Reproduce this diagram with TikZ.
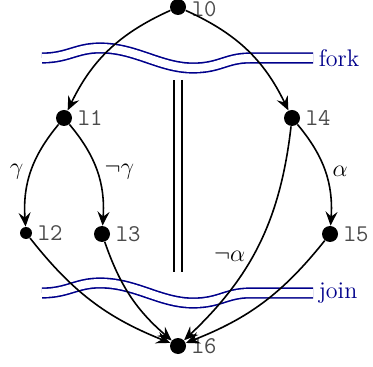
\documentclass[tikz,border=0pt]{standalone}
\usepackage{amsmath,amssymb}
\usepackage{tikz}
\usepackage{xcolor}
\usetikzlibrary{arrows.meta}

\begin{document}
\begin{tikzpicture}[x=0.5pt,y=-0.5pt]
    \definecolor{wavec}{RGB}{0,0,139}
    \definecolor{labc}{RGB}{75,75,75}
    \tikzset{
      dot/.style={circle, fill=black, inner sep=0pt, minimum size=8pt},
      smalldot/.style={circle, fill=black, inner sep=0pt, minimum size=6pt},
      lab/.style={text=labc, font=\ttfamily\large, inner sep=2.5pt},
      elab/.style={font=\large},
      flow/.style={line width=0.8pt, -{Stealth[length=7pt,width=6pt,inset=2.5pt]}},
      wave/.style={draw=wavec, line width=0.8pt, double=white, double distance=4pt}
    }
    \useasboundingbox (0,0) rectangle (373,367);

    % fork and join barriers
    \foreach \yy/\txt in {0/fork,235/join}{
      \draw[wave, shift={(0,\yy)}]
        (42,58) .. controls (68,58) and (76,48) .. (100,48)
        .. controls (136,48) and (160,68) .. (193,68)
        .. controls (220,68) and (226,58) .. (250,58) -- (313,58)
        node[right, text=wavec, font=\large, inner sep=2.5pt] (\txt) {\txt};
    }

    % parallel bar
    \coordinate (bartop) at (178,80);
    \coordinate (barbot) at (178,272);
    \draw[line width=1pt, double=white, double distance=2.6pt] (bartop) -- (barbot);

    \node[dot, label={[lab, yshift=-1pt]right:l0}] (l0) at (178,7) {};
    \node[dot, label={[lab]right:l1}] (l1) at (64,118) {};
    \node[smalldot, label={[lab]right:l2}] (l2) at (26,233) {};
    \node[dot, label={[lab]right:l3}] (l3) at (102,234) {};
    \node[dot, label={[lab]right:l4}] (l4) at (292,118) {};
    \node[dot, label={[lab]right:l5}] (l5) at (330,234) {};
    \node[dot, label={[lab]right:l6}] (l6) at (178,346) {};

    \draw[flow] (l0) to[bend right=20] (l1);
    \draw[flow] (l0) to[bend left=20] (l4);
    \draw[flow] (l1) to[bend right=22] node[left, elab] (g) {$\gamma$} (l2);
    \draw[flow] (l1) to[bend left=22] node[right, elab] (ng) {$\neg\gamma$} (l3);
    \draw[flow] (l4) to[bend left=22] node[right, elab] (a) {$\alpha$} (l5);
    \draw[flow] (l4) to[bend left=20] node[left, elab, pos=0.56] (na) {$\neg\alpha$} (l6);
    \draw[flow] (l2) to[bend right=15] (l6);
    \draw[flow] (l3) to[bend right=15] (l6);
    \draw[flow] (l5) to[bend left=15] (l6);
  \end{tikzpicture}
\end{document}
